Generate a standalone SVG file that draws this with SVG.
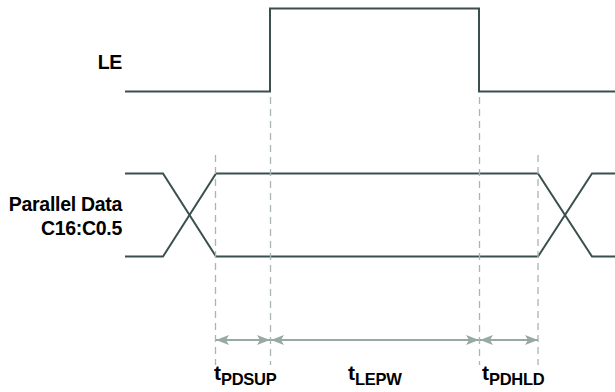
<svg xmlns="http://www.w3.org/2000/svg" width="615" height="392" viewBox="0 0 615 392">
<style>
.sig{fill:none;stroke:#3b4f4f;stroke-width:2;stroke-linejoin:miter}
.dash{fill:none;stroke:#a9b6b4;stroke-width:1.3;stroke-dasharray:7 5}
.dim{fill:none;stroke:#98a8a5;stroke-width:2.2}
.lbl{font-family:"Liberation Sans",Arial,sans-serif;font-weight:bold;font-size:19.5px;fill:#000;text-anchor:end;letter-spacing:-0.3px}
.t{font-family:"Liberation Sans",Arial,sans-serif;font-size:21px;font-weight:bold;fill:#000}
.sub{font-size:16.5px;font-weight:bold;letter-spacing:-0.3px}
</style>
<defs>
<marker id="ah" viewBox="0 0 13 10" refX="13" refY="5" markerWidth="13" markerHeight="10" markerUnits="userSpaceOnUse" orient="auto-start-reverse">
<path d="M0,0 L13,5 L0,10 L3,5 Z" fill="#98a8a5"/>
</marker>
</defs>
<g id="labels">
<text class="lbl" x="122" y="69">LE</text>
<text class="lbl" x="122" y="211">Parallel Data</text>
<text class="lbl" x="122" y="235">C16:C0.5</text>
</g>
<g id="le-signal">
<path class="sig" d="M125,91.5 H270 V8.5 H479 V91.5 H615"/>
</g>
<g id="data-signal">
<path class="sig" d="M125,173.5 H163 L216,256.5 H538 L592,173.5 H615"/>
<path class="sig" d="M125,256.5 H163 L216,173.5 H538 L592,256.5 H615"/>
</g>
<g id="connectors">
<line class="dash" x1="215.5" y1="155" x2="215.5" y2="365"/>
<line class="dash" x1="270.5" y1="97" x2="270.5" y2="365"/>
<line class="dash" x1="479.5" y1="97" x2="479.5" y2="365"/>
<line class="dash" x1="538" y1="155" x2="538" y2="365"/>
<line class="dim" x1="216" y1="340" x2="270" y2="340" marker-start="url(#ah)" marker-end="url(#ah)"/>
<line class="dim" x1="271" y1="340" x2="479" y2="340" marker-start="url(#ah)" marker-end="url(#ah)"/>
<line class="dim" x1="480" y1="340" x2="538" y2="340" marker-start="url(#ah)" marker-end="url(#ah)"/>
</g>
<g id="timing-labels">
<text class="t" x="214" y="380">t<tspan class="sub" dy="5">PDSUP</tspan></text>
<text class="t" x="348" y="380">t<tspan class="sub" dy="5">LEPW</tspan></text>
<text class="t" x="482" y="380">t<tspan class="sub" dy="5">PDHLD</tspan></text>
</g>
</svg>
